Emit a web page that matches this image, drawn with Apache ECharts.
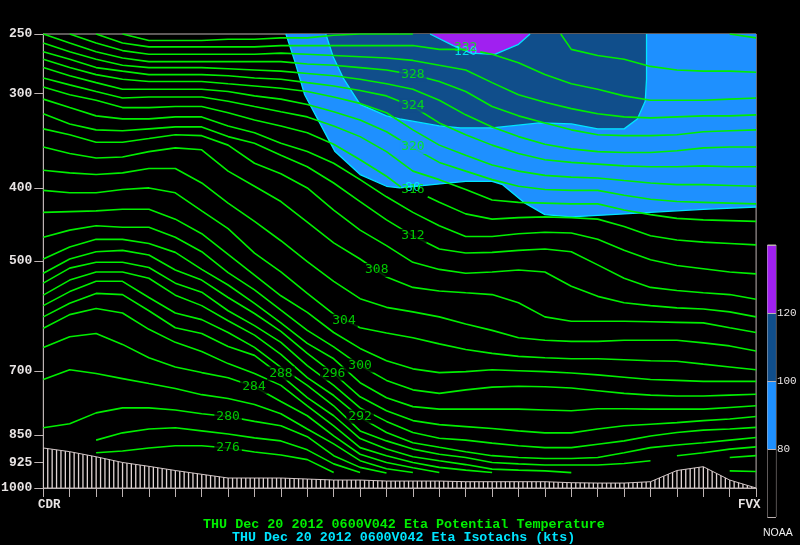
<!DOCTYPE html>
<html><head><meta charset="utf-8">
<script src="https://cdn.jsdelivr.net/npm/echarts@6/dist/echarts.min.js"></script>
<style>html,body{margin:0;padding:0;background:#000}#c{width:800px;height:545px}</style>
</head><body><div id="c"></div>
<script>
// pressure axis
const pressureTicks=[250,300,400,500,700,850,925,1000];
// terrain surface pressure (hPa) per column
const terrain=[885,895,909,925,936,948,959,970,970,970,973,976,976,979,979,979,981,981,981,981,984,985,985,981,948,937,976,1000];
// potential temperature contours, pressure (hPa) per column
const th336=[250,253];
const th334a=[250,255,255,255,254,254,253,253,251,250,250,250];
const th334b=[262,267,270,276,279,280,280,281];
const th332a=[250,257,260,260,260,260,260,259,259,259,259,259,259,262,262];
const th332b=[266,273,283,291,296,302,306,306,306,305,304];
const th330=[250,257,263,266,266,266,266,266,265,266,267,268,269,271,275,279,290,301,308,314,319,322,323,322,321,321,320];
const th328=[250,257,264,269,272,272,272,272,272,272,274,275,277,279,283,289,298,312,321,328,335,340,341,341,340,337,336,335];
const th326=[257,264,270,275,277,277,277,278,279,280,282,284,287,291,296,306,320,332,342,350,355,358,359,359,357,354,353,353];
const th324=[264,270,277,280,283,283,283,284,286,287,290,293,297,302,312,328,340,351,360,367,370,372,374,375,375,374,375,375];
const th322=[270,277,283,287,289,289,289,291,293,295,298,303,309,318,335,351,362,373,380,385,387,388,391,394,396,396,397,398];
const th320=[277,284,290,296,296,296,296,298,302,305,310,317,325,337,354,370,380,390,398,402,403,403,409,414,417,418,419,420];
const th318=[286,292,298,304,303,303,303,307,312,317,322,331,342,358,380,390,402,415,418,419,420,420,428,434,439,441,442,443];
const th316a=[294,301,306,313,313,312,312,318,325,331,338,350,367,386];
const th316b=[418,433,440,438,437,438,440,450,463,469,472,474,476];
const th314=[305,313,321,324,324,322,322,331,338,349,358,371,390,411,431,449,464,464,460,458,459,468,484,498,507,512,517,520];
const th312=[319,329,335,336,334,332,332,342,349,362,375,394,417,441,463,482,488,487,484,482,486,506,527,542,547,551,554,562];
const th310=[334,340,348,348,344,340,341,351,371,383,400,428,455,477,502,513,519,517,514,517,540,557,568,573,577,579,584,593];
const th308=[353,360,365,364,358,354,356,380,398,417,444,473,497,525,542,548,551,554,568,593,601,601,601,602,603,604,613,622];
const th306=[379,382,384,382,377,377,394,419,443,470,501,532,561,576,584,593,606,618,632,637,639,639,637,637,637,642,648,658];
const th304=[403,406,406,402,400,406,429,453,488,517,552,588,613,623,632,644,655,663,669,672,674,674,676,678,679,685,691,697];
const th302=[431,430,429,427,427,440,460,490,522,556,585,622,653,678,695,703,701,697,699,701,704,708,713,718,720,722,722,722];
const th300=[465,455,449,451,451,465,486,518,546,581,618,650,688,720,741,749,741,735,733,734,737,743,749,753,755,755,753,751];
const th298=[497,479,468,468,474,487,513,538,569,604,643,674,725,759,780,786,786,786,786,788,790,785,785,786,786,786,782,778];
const th296=[519,497,486,484,491,514,530,559,587,620,663,705,757,790,814,824,829,834,840,845,845,835,827,823,819,814,810,804];
const th294=[535,511,502,502,510,535,550,582,609,641,688,731,783,816,844,859,864,872,879,884,884,875,866,853,844,838,835,831];
const th292=[555,530,517,517,527,555,573,600,627,665,714,754,806,844,871,883,895,906,911,914,914,911,898,884,877,871,864,857];
const th290a=[573,549,532,532,559,586,598,622,651,692,731,778,840,866,888,902,911,925,929,932,932,932,928,920];
const th290b=[906,898,888,882];
const th288a=[593,569,552,554,582,613,624,649,667,709,759,802,860,888,909,920,931,944,947,949,954];
const th288b=[911,906];
const th286a=[614,589,578,586,616,641,659,684,705,731,778,827,884,906,925,939,947,954];
const th286b=[949,951];
const th284=[651,630,624,645,672,691,703,714,734,768,802,853,902,925,940,954];
const th282=[718,697,705,716,727,738,752,761,775,797,835,874,920,943,954];
const th280=[832,822,795,783,783,788,797,804,816,827,855,906,939,955];
const th278=[864,845,835,832,840,848,858,866,890,929,954];
const th276=[898,893,885,879,879,885,896,904,917,954];
// [first column, pressures, optional extra point before, optional extra point after]
const contourRuns=[[26,th336],[3,th334a],[20,th334b,[19.6,250]],[2,th332a,null,[15.45,262]],[17,th332b,[16.55,264]],
 [1,th330],[0,th328],[0,th326],[0,th324],[0,th322],[0,th320],[0,th318],[0,th316a,null,[13.55,399]],[15,th316b,[14.56,411]],
 [0,th314],[0,th312],[0,th310],[0,th308],[0,th306],[0,th304],[0,th302],[0,th300],[0,th298],[0,th296],[0,th294],[0,th292],
 [0,th290a],[24,th290b],[0,th288a],[26,th288b],[0,th286a],[26,th286b],[0,th284],[0,th282],[0,th280],[2,th278],[2,th276]];
// contour labels [column, pressure, text]
const thetaLabels=[[7,885,'276'],[7,804,'280'],[7.98,734,'284'],[9,705,'288'],[12,804,'292'],[11,705,'296'],[12,688,'300'],[11.39,600,'304'],[12.63,514,'308'],[14,463,'312']];
const thetaLabelsDark=[[14,283,'328'],[14,311,'324']];
const thetaLabelsBlue=[[14,353,'320']];
const thetaLabelsBare=[[14,402,'316'],[16,261,'332']];
const isoLabels=[[14,400,'80'],[16,264,'120']];
// isotach contours [column, pressure]
const iso80=[[9.19,250],[9.53,272],[9.9,301],[10.47,328],[11.05,358],[12,384],[13,398],[13.5,400],[15.4,394],[16,392],[17,392],[17.4,396],[18.2,418],[19,434],[20,437],[21,435],[22,433],[23,431],[25,427],[27,424]];
const iso100=[[10.7,250],[10.98,268],[11.36,286],[12,310],[13,321],[13.5,324],[15,331],[15.8,333],[17,333],[18.8,328],[20,329],[21,334],[22,334],[22.5,324],[22.8,307],[22.85,287],[22.85,250]];
const iso120=[[14.65,250],[15.53,259],[16.2,265],[17.1,266],[18,258],[18.44,250]];
const iso80Corners=[[27,250]];
// colour bar bands [from kts, to kts]
const barBands=[[60,80],[80,100],[100,120],[120,140]];
const barColors=['#000000','#1e90ff','#104e8b','#a020f0'];
const mono='"Liberation Mono","DejaVu Sans Mono",monospace';
const sansMono='"DejaVu Sans Mono",monospace';
const axisGrey='#bdb3b3', textGrey='#e8e4e4', green='#00ee00', cyan='#00e5ff';

// hatch for the terrain
const hatch=document.createElement('canvas');hatch.width=22;hatch.height=4;
const hc=hatch.getContext('2d');hc.fillStyle='#e0d4d4';
[21.3,3.7,8.1,12.5,16.9].forEach(x=>hc.fillRect(x-0.6,0,1.3,4));

const chart=echarts.init(document.getElementById('c'),null,{renderer:'canvas'});
const series=[];
function polygon(points,color,z){
  series.push({type:'custom',xAxisIndex:0,yAxisIndex:0,z,silent:true,clip:true,data:[[13,500]],
    renderItem:(p,api)=>({type:'polygon',shape:{points:points.map(q=>api.coord(q))},style:{fill:color}})});
}
polygon(iso80.concat(iso80Corners),'#1e90ff',1);
polygon(iso100,'#104e8b',2);
polygon(iso120,'#a020f0',3);
[iso80,iso100,iso120].forEach(d=>series.push({type:'line',data:d,z:4,showSymbol:false,silent:true,lineStyle:{color:cyan,width:1.3}}));
series.push({type:'line',data:terrain.map((p,i)=>[i,p]),z:5,showSymbol:false,silent:true,
  lineStyle:{color:'#d2c6c6',width:1},areaStyle:{color:{image:hatch,repeat:'repeat'},opacity:1,origin:'end'}});
contourRuns.forEach(r=>{
  const d=r[1].map((p,i)=>[r[0]+i,p]);
  if(r[2])d.unshift(r[2]);
  if(r[3])d.push(r[3]);
  series.push({type:'line',data:d,z:6,showSymbol:false,silent:true,lineStyle:{color:green,width:1.6}});
});
function labels(list,color,bg){
  series.push({type:'scatter',z:8,silent:true,symbolSize:1,itemStyle:{color:'rgba(0,0,0,0)'},
    data:list.map(l=>({value:[l[0],l[1]],text:l[2]})),
    label:{show:true,position:'inside',color,fontFamily:sansMono,fontSize:13,
      backgroundColor:bg||'transparent',padding:[1,2,0,2],
      formatter:o=>o.data.text}});
}
labels(isoLabels,'#00ffff');
labels(thetaLabels,'#00f800','#000');
labels(thetaLabelsDark,'#00f800','#104e8b');
labels(thetaLabelsBlue,'#00f800','#1e90ff');
labels(thetaLabelsBare,'#00f800');
series.push({type:'custom',xAxisIndex:1,yAxisIndex:1,z:2,silent:true,clip:false,
  data:barBands.map((b,i)=>[0,b[0],b[1],i]),encode:{x:0,y:[1,2]},
  renderItem:(p,api)=>{
    const a=api.coord([0,api.value(1)]),b=api.coord([1,api.value(2)]);
    return {type:'rect',shape:{x:a[0],y:b[1],width:b[0]-a[0],height:a[1]-b[1]},style:{fill:barColors[api.value(3)]}};
  }});

chart.setOption({
  animation:false,backgroundColor:'#000',
  title:[
    {text:'THU Dec 20 2012 0600V042 Eta Potential Temperature',left:203,top:518,padding:0,textStyle:{color:'#00ee00',fontFamily:mono,fontSize:13.4,fontWeight:'bold'}},
    {text:'THU Dec 20 2012 0600V042 Eta Isotachs (kts)',left:232,top:531,padding:0,textStyle:{color:'#00e5ff',fontFamily:mono,fontSize:13.3,fontWeight:'bold'}}
  ],
  grid:[
    {left:43.3,top:34,width:712.8,height:454,outerBoundsMode:'none',show:true,borderColor:axisGrey,borderWidth:1},
    {left:767.5,top:245,width:8.4,height:272,outerBoundsMode:'none',show:true,borderColor:axisGrey,borderWidth:1}
  ],
  xAxis:[
    {type:'value',gridIndex:0,min:0,max:27,interval:1,position:'bottom',
     axisLine:{show:true,lineStyle:{color:axisGrey}},axisTick:{show:true,length:9,lineStyle:{color:axisGrey}},
     axisLabel:{show:false},splitLine:{show:false}},
    {type:'value',gridIndex:1,min:0,max:1,show:false}
  ],
  yAxis:[
    {type:'log',logBase:10,gridIndex:0,min:250,max:1000,inverse:true,position:'left',
     axisLine:{show:true,lineStyle:{color:axisGrey}},
     axisTick:{show:true,length:9,customValues:pressureTicks,lineStyle:{color:axisGrey}},minorTick:{show:false},
     axisLabel:{show:true,customValues:pressureTicks,color:textGrey,fontFamily:mono,fontSize:13,fontWeight:'bold',margin:11,formatter:v=>String(Math.round(v))},
     splitLine:{show:false},minorSplitLine:{show:false}},
    {type:'value',gridIndex:1,min:60,max:140,interval:20,position:'right',z:3,
     axisLine:{show:false},axisTick:{show:false},
     axisLabel:{show:true,customValues:[80,100,120],color:textGrey,fontFamily:mono,fontSize:11,margin:1},
     splitLine:{show:true,lineStyle:{color:axisGrey,width:1}}}
  ],
  graphic:[
    {type:'text',left:38,top:498,style:{text:'CDR',fill:textGrey,font:'bold 12.5px '+mono}},
    {type:'text',left:738,top:498,style:{text:'FVX',fill:textGrey,font:'bold 12.5px '+mono}},
    {type:'text',left:763,top:528,style:{text:'NOAA',fill:'#f0f0f0',font:'10.5px "Liberation Sans",sans-serif'}}
  ],
  series
});
</script></body></html>
